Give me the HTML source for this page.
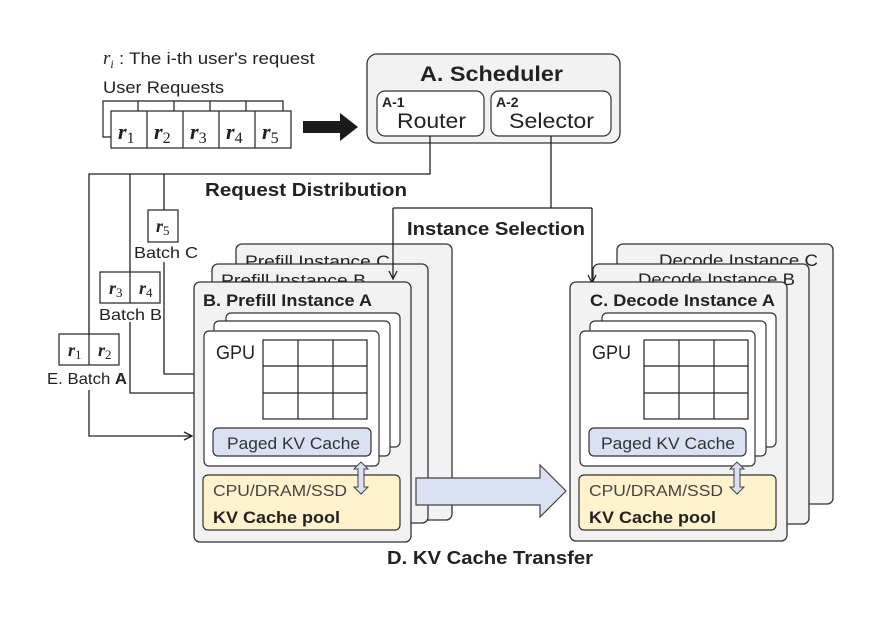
<!DOCTYPE html>
<html><head><meta charset="utf-8"><style>
html,body{margin:0;padding:0;background:#fff;}
svg{display:block;font-family:"Liberation Sans","DejaVu Sans",sans-serif;}
</style></head><body>
<svg width="890" height="619" viewBox="0 0 890 619" xmlns="http://www.w3.org/2000/svg">
<defs>
<marker id="ah" markerWidth="10" markerHeight="10" refX="9" refY="5" orient="auto" markerUnits="userSpaceOnUse">
<path d="M1,1 L9,5 L1,9" fill="none" stroke="#222" stroke-width="1.3"/>
</marker>
<g id="dbl">
<path d="M0,-16 L7,-9 L3,-9 L3,9 L7,9 L0,16 L-7,9 L-3,9 L-3,-9 L-7,-9 Z" fill="#d9e1f2" stroke="#444" stroke-width="1"/>
</g>
</defs>
<rect width="890" height="619" fill="#fff"/>

<!-- top legend -->
<text x="103" y="64" font-size="17" fill="#222"><tspan font-family="Liberation Serif,serif" font-style="italic" font-size="19">r</tspan><tspan font-family="Liberation Serif,serif" font-style="italic" font-size="12" dy="4">i</tspan><tspan dy="-4" textLength="201" lengthAdjust="spacingAndGlyphs"> : The i-th user's request</tspan></text>
<text x="103" y="93" font-size="17" fill="#222" textLength="121" lengthAdjust="spacingAndGlyphs">User Requests</text>
<!-- queue back -->
<path d="M111,137 L103,137 L103,101 L283,101 L283,111" fill="none" stroke="#222" stroke-width="1.2"/>
<g stroke="#222" stroke-width="1.2"><line x1="138" y1="101" x2="138" y2="111"/><line x1="174" y1="101" x2="174" y2="111"/><line x1="210" y1="101" x2="210" y2="111"/><line x1="246" y1="101" x2="246" y2="111"/></g>
<rect x="111" y="111" width="180" height="37" fill="#fff" stroke="#222" stroke-width="1.2"/>
<g stroke="#222" stroke-width="1.2"><line x1="147" y1="111" x2="147" y2="148"/><line x1="183" y1="111" x2="183" y2="148"/><line x1="219" y1="111" x2="219" y2="148"/><line x1="255" y1="111" x2="255" y2="148"/></g>
<g font-family="Liberation Serif,serif" font-style="italic" font-weight="bold" font-size="22" fill="#222">
<text x="118" y="139">r<tspan font-style="normal" font-weight="normal" font-size="16" dy="4">1</tspan></text>
<text x="154" y="139">r<tspan font-style="normal" font-weight="normal" font-size="16" dy="4">2</tspan></text>
<text x="190" y="139">r<tspan font-style="normal" font-weight="normal" font-size="16" dy="4">3</tspan></text>
<text x="226" y="139">r<tspan font-style="normal" font-weight="normal" font-size="16" dy="4">4</tspan></text>
<text x="262" y="139">r<tspan font-style="normal" font-weight="normal" font-size="16" dy="4">5</tspan></text>
</g>
<!-- black arrow -->
<path d="M303,121 L340,121 L340,113 L358,127 L340,141 L340,133 L303,133 Z" fill="#1a1a1a"/>

<!-- scheduler -->
<rect x="367" y="54" width="253" height="89" rx="10" fill="#f2f2f2" stroke="#333" stroke-width="1.3"/>
<text x="420" y="81" font-size="21" font-weight="bold" fill="#222" textLength="143" lengthAdjust="spacingAndGlyphs">A. Scheduler</text>
<rect x="377" y="91" width="107" height="45" rx="8" fill="#fff" stroke="#333" stroke-width="1.2"/>
<rect x="491" y="91" width="120" height="45" rx="8" fill="#fff" stroke="#333" stroke-width="1.2"/>
<text x="382" y="107" font-size="14" font-weight="bold" fill="#222">A-1</text>
<text x="397" y="128" font-size="21" fill="#222" textLength="69" lengthAdjust="spacingAndGlyphs">Router</text>
<text x="496" y="107" font-size="14" font-weight="bold" fill="#222">A-2</text>
<text x="509" y="128" font-size="21" fill="#222" textLength="85" lengthAdjust="spacingAndGlyphs">Selector</text>

<!-- router lines -->
<g fill="none" stroke="#222" stroke-width="1.3">
<polyline points="430,136 430,174 89,174 89,334"/>
<line x1="130" y1="174" x2="130" y2="272"/>
<line x1="164" y1="174" x2="164" y2="210"/>
<polyline points="89,390 89,436 192,436" marker-end="url(#ah)"/>
<polyline points="130,322 130,393 194,393"/>
<polyline points="164,262 164,374 194,374"/>
<polyline points="551,136 551,208"/>
<polyline points="393,208 592,208"/>
</g>
<text x="205" y="196" font-size="18" font-weight="bold" fill="#222" textLength="202" lengthAdjust="spacingAndGlyphs">Request Distribution</text>
<text x="407" y="235" font-size="18" font-weight="bold" fill="#222" textLength="178" lengthAdjust="spacingAndGlyphs">Instance Selection</text>

<!-- batches -->
<rect x="148" y="210" width="30" height="32" fill="#fff" stroke="#222" stroke-width="1.2"/>
<text x="156" y="232" font-family="Liberation Serif,serif" font-style="italic" font-weight="bold" font-size="18" fill="#222">r<tspan font-style="normal" font-weight="normal" font-size="13" dy="3">5</tspan></text>
<text x="134" y="258" font-size="16" fill="#222" textLength="64" lengthAdjust="spacingAndGlyphs">Batch C</text>
<rect x="100" y="272" width="60" height="31" fill="#fff" stroke="#222" stroke-width="1.2"/>
<line x1="130" y1="272" x2="130" y2="303" stroke="#222" stroke-width="1.2"/>
<text x="109" y="294" font-family="Liberation Serif,serif" font-style="italic" font-weight="bold" font-size="18" fill="#222">r<tspan font-style="normal" font-weight="normal" font-size="13" dy="3">3</tspan></text>
<text x="139" y="294" font-family="Liberation Serif,serif" font-style="italic" font-weight="bold" font-size="18" fill="#222">r<tspan font-style="normal" font-weight="normal" font-size="13" dy="3">4</tspan></text>
<text x="99" y="320" font-size="16" fill="#222" textLength="63" lengthAdjust="spacingAndGlyphs">Batch B</text>
<rect x="59" y="334" width="60" height="31" fill="#fff" stroke="#222" stroke-width="1.2"/>
<line x1="89" y1="334" x2="89" y2="365" stroke="#222" stroke-width="1.2"/>
<text x="68" y="356" font-family="Liberation Serif,serif" font-style="italic" font-weight="bold" font-size="18" fill="#222">r<tspan font-style="normal" font-weight="normal" font-size="13" dy="3">1</tspan></text>
<text x="98" y="356" font-family="Liberation Serif,serif" font-style="italic" font-weight="bold" font-size="18" fill="#222">r<tspan font-style="normal" font-weight="normal" font-size="13" dy="3">2</tspan></text>
<text x="47" y="384" font-size="16" fill="#222" textLength="80" lengthAdjust="spacingAndGlyphs">E. Batch <tspan font-weight="bold">A</tspan></text>

<!-- Prefill stack -->
<rect x="236" y="244" width="216" height="276" rx="6" fill="#f2f2f2" stroke="#333" stroke-width="1.3"/>
<text x="245" y="267" font-size="17" fill="#222" textLength="145" lengthAdjust="spacingAndGlyphs">Prefill Instance C</text>
<rect x="212" y="264" width="216" height="259" rx="6" fill="#f2f2f2" stroke="#333" stroke-width="1.3"/>
<text x="221" y="286" font-size="17" fill="#222" textLength="145" lengthAdjust="spacingAndGlyphs">Prefill Instance B</text>
<line x1="393" y1="208" x2="393" y2="279" stroke="#222" stroke-width="1.3" marker-end="url(#ah)"/>

<!-- big transfer arrow -->
<path d="M416,478 L540,478 L540,465 L566,491 L540,517 L540,505 L416,505 Z" fill="#d9e1f2" stroke="#444" stroke-width="1.2"/>

<rect x="194" y="282" width="217" height="260" rx="6" fill="#f2f2f2" stroke="#333" stroke-width="1.3"/>
<text x="203" y="306" font-size="17" font-weight="bold" fill="#222" textLength="169" lengthAdjust="spacingAndGlyphs">B. Prefill Instance A</text>
<rect x="226" y="313" width="174" height="134" rx="5" fill="#fff" stroke="#333" stroke-width="1.2"/>
<rect x="214" y="321" width="176" height="135" rx="5" fill="#fff" stroke="#333" stroke-width="1.2"/>
<rect x="204" y="331" width="175" height="135" rx="5" fill="#fff" stroke="#333" stroke-width="1.2"/>
<text x="216" y="359" font-size="19" fill="#222" textLength="39" lengthAdjust="spacingAndGlyphs">GPU</text>
<g fill="none" stroke="#222" stroke-width="1.2">
<rect x="263" y="340" width="104" height="79"/>
<line x1="298" y1="340" x2="298" y2="419"/><line x1="333" y1="340" x2="333" y2="419"/>
<line x1="263" y1="366" x2="367" y2="366"/><line x1="263" y1="393" x2="367" y2="393"/>
</g>
<rect x="213" y="428" width="158" height="28" rx="5" fill="#d9e1f2" stroke="#333" stroke-width="1.2"/>
<text x="227" y="449" font-size="17" fill="#333" textLength="133" lengthAdjust="spacingAndGlyphs">Paged KV Cache</text>
<rect x="203" y="475" width="197" height="55" rx="5" fill="#fff2cc" stroke="#333" stroke-width="1.2"/>
<text x="213" y="496" font-size="16" fill="#444" textLength="134" lengthAdjust="spacingAndGlyphs">CPU/DRAM/SSD</text>
<text x="213" y="523" font-size="17" font-weight="bold" fill="#222" textLength="127" lengthAdjust="spacingAndGlyphs">KV Cache pool</text>
<use href="#dbl" x="361" y="478"/>

<!-- Decode stack -->
<rect x="617" y="244" width="216" height="260" rx="6" fill="#f2f2f2" stroke="#333" stroke-width="1.3"/>
<text x="659" y="266" font-size="17" fill="#222" textLength="159" lengthAdjust="spacingAndGlyphs">Decode Instance C</text>
<rect x="593" y="264" width="216" height="260" rx="6" fill="#f2f2f2" stroke="#333" stroke-width="1.3"/>
<text x="638" y="285" font-size="17" fill="#222" textLength="157" lengthAdjust="spacingAndGlyphs">Decode Instance B</text>
<line x1="592" y1="208" x2="592" y2="283" stroke="#222" stroke-width="1.3" marker-end="url(#ah)"/>
<rect x="570" y="282" width="217" height="259" rx="6" fill="#f2f2f2" stroke="#333" stroke-width="1.3"/>
<text x="590" y="306" font-size="17" font-weight="bold" fill="#222" textLength="185" lengthAdjust="spacingAndGlyphs">C. Decode Instance A</text>
<rect x="602" y="313" width="174" height="134" rx="5" fill="#fff" stroke="#333" stroke-width="1.2"/>
<rect x="590" y="321" width="176" height="135" rx="5" fill="#fff" stroke="#333" stroke-width="1.2"/>
<rect x="580" y="331" width="175" height="135" rx="5" fill="#fff" stroke="#333" stroke-width="1.2"/>
<text x="592" y="359" font-size="19" fill="#222" textLength="39" lengthAdjust="spacingAndGlyphs">GPU</text>
<g fill="none" stroke="#222" stroke-width="1.2">
<rect x="644" y="340" width="104" height="79"/>
<line x1="679" y1="340" x2="679" y2="419"/><line x1="714" y1="340" x2="714" y2="419"/>
<line x1="644" y1="366" x2="748" y2="366"/><line x1="644" y1="393" x2="748" y2="393"/>
</g>
<rect x="589" y="428" width="157" height="28" rx="5" fill="#d9e1f2" stroke="#333" stroke-width="1.2"/>
<text x="601" y="449" font-size="17" fill="#333" textLength="134" lengthAdjust="spacingAndGlyphs">Paged KV Cache</text>
<rect x="579" y="475" width="197" height="55" rx="5" fill="#fff2cc" stroke="#333" stroke-width="1.2"/>
<text x="589" y="496" font-size="16" fill="#444" textLength="134" lengthAdjust="spacingAndGlyphs">CPU/DRAM/SSD</text>
<text x="589" y="523" font-size="17" font-weight="bold" fill="#222" textLength="127" lengthAdjust="spacingAndGlyphs">KV Cache pool</text>
<use href="#dbl" x="737" y="478"/>

<text x="387" y="564" font-size="18" font-weight="bold" fill="#222" textLength="206" lengthAdjust="spacingAndGlyphs">D. KV Cache Transfer</text>
</svg>
</body></html>
